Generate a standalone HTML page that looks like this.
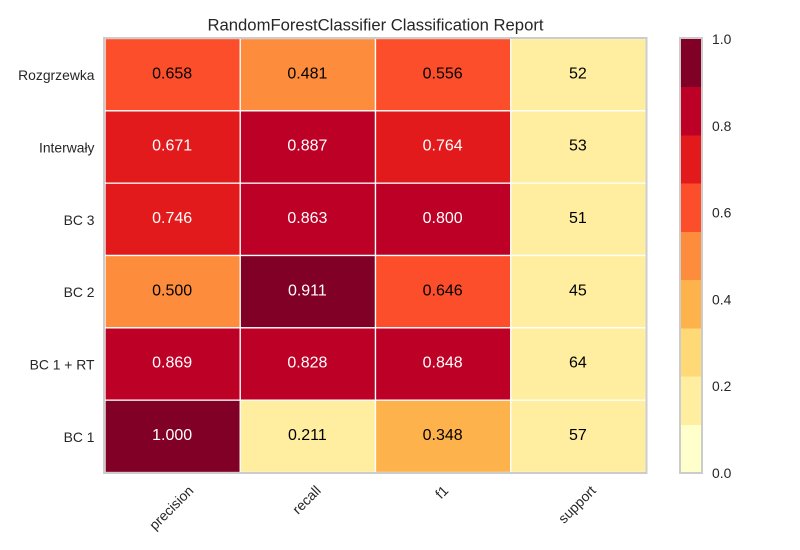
<!DOCTYPE html>
<html>
<head>
<meta charset="utf-8">
<title>RandomForestClassifier Classification Report</title>
<style>
html,body{margin:0;padding:0;background:#fff;width:800px;height:550px;overflow:hidden}
svg{display:block;font-family:"Liberation Sans",sans-serif}
</style>
</head>
<body>
<svg id="chart" width="800" height="550" viewBox="0 0 800 550">
<text x="375.5" y="30.5" text-anchor="middle" font-size="16.67" fill="#262626">RandomForestClassifier Classification Report</text>
</svg>
<script>
const classes = ['Rozgrzewka', 'Interwały', 'BC 3', 'BC 2', 'BC 1 + RT', 'BC 1'];
const metrics = ['precision', 'recall', 'f1', 'support'];
const precision = [0.658, 0.671, 0.746, 0.500, 0.869, 1.000];
const recall = [0.481, 0.887, 0.863, 0.911, 0.828, 0.211];
const f1 = [0.556, 0.764, 0.800, 0.646, 0.848, 0.348];
const support = [52, 53, 51, 45, 64, 57];
const binColors = ['#ffffcc', '#ffeda0', '#fed976', '#feb24c', '#fd8d3c', '#fc4e2a', '#e31a1c', '#bd0026', '#800026'];
const colorbarTicks = [0.0, 0.2, 0.4, 0.6, 0.8, 1.0];

const NS = 'http://www.w3.org/2000/svg';
const svg = document.getElementById('chart');
const plot = {left: 105, right: 646, top: 38.5, bottom: 472.5};
const bar = {left: 681, right: 701, top: 39, bottom: 473};

function xScale(i) { return plot.left + (plot.right - plot.left) * i / metrics.length; }
function yScale(i) { return plot.top + (plot.bottom - plot.top) * i / classes.length; }
function barY(v) { return bar.bottom - (bar.bottom - bar.top) * v; }
function binIndex(v) { return Math.min(binColors.length - 1, Math.floor(v * binColors.length)); }
function add(tag, attrs, text) {
  const el = document.createElementNS(NS, tag);
  for (const k in attrs) el.setAttribute(k, attrs[k]);
  if (text !== undefined) el.textContent = text;
  svg.appendChild(el);
  return el;
}

const supportTotal = support.reduce(function (a, b) { return a + b; }, 0);
const series = [precision, recall, f1, support];

series.forEach(function (values, c) {
  values.forEach(function (value, r) {
    const isSupport = metrics[c] === 'support';
    const norm = isSupport ? value / supportTotal : value;
    const bin = binIndex(norm);
    const cell = add('rect', {
      x: xScale(c), y: yScale(r),
      width: xScale(c + 1) - xScale(c), height: yScale(r + 1) - yScale(r),
      fill: binColors[bin], stroke: '#ffffff', 'stroke-width': 1.3
    });
    
    
    const label = add('text', {
      x: (xScale(c) + xScale(c + 1)) / 2 - 0.5,
      y: (yScale(r) + yScale(r + 1)) / 2 + 3.7,
      'text-anchor': 'middle', 'font-size': 16,
      fill: bin >= 6 ? '#ffffff' : '#000000'
    }, isSupport ? String(value) : value.toFixed(3));
    
    
  });
});

const plotBorder = add('rect', {
  x: 104, y: 38, width: 542.5, height: 435,
  fill: 'none', stroke: '#cccccc', 'stroke-width': 2
});



classes.forEach(function (name, r) {
  const t = add('text', {
    x: 94.5, y: (yScale(r) + yScale(r + 1)) / 2 + 5.5,
    'text-anchor': 'end', 'font-size': 13.89, fill: '#262626'
  }, name);
  
  
});

metrics.forEach(function (name, c) {
  const cx = (xScale(c) + xScale(c + 1)) / 2 - 1.5;
  const t = add('text', {'text-anchor': 'middle', 'font-size': 13.89, fill: '#262626'}, name);
  const len = t.getComputedTextLength();
  const cy = 483 + (len + 14) * Math.SQRT1_2 / 2;
  t.setAttribute('x', cx);
  t.setAttribute('y', cy + 5);
  t.setAttribute('transform', 'rotate(-45 ' + cx + ' ' + cy + ')');
  
  
});

binColors.forEach(function (color, i) {
  const y0 = barY(i / binColors.length);
  const y1 = barY((i + 1) / binColors.length);
  const band = add('rect', {x: bar.left, y: y1, width: bar.right - bar.left, height: y0 - y1, fill: color, 'shape-rendering': 'crispEdges'});
  
  
});

const barBorder = add('rect', {
  x: 680, y: 38, width: 22, height: 435,
  fill: 'none', stroke: '#cccccc', 'stroke-width': 2
});



colorbarTicks.forEach(function (v) {
  const t = add('text', {
    x: 712, y: barY(v) + 5, 'font-size': 13.89, fill: '#262626'
  }, v.toFixed(1));
  
  
});
</script>
</body>
</html>
